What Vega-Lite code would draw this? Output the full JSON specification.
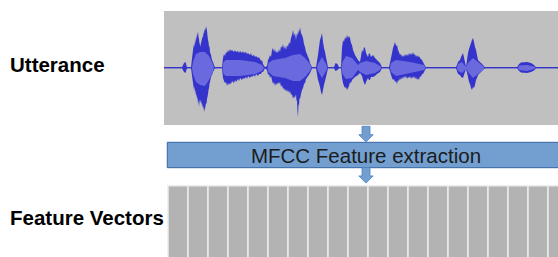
{
  "$schema": "https://vega.github.io/schema/vega-lite/v6.json",
  "width": 558,
  "height": 257,
  "padding": 0,
  "autosize": {"type": "none"},
  "background": "#ffffff",
  "config": {"view": {"stroke": null}},
  "datasets": {
    "outer": [
      {"x":164,"t":67.2,"b":68.3},{"x":182,"t":67.2,"b":68.3},{"x":184,"t":63,"b":72},{"x":185.5,"t":62,"b":73},{"x":187,"t":67.2,"b":68.3},{"x":191,"t":67.2,"b":68.3},
      {"x":193,"t":50,"b":83},{"x":194,"t":44,"b":90},{"x":194.5,"t":47,"b":86},{"x":195,"t":40,"b":93},{"x":195.5,"t":44,"b":90},{"x":196,"t":36,"b":96},{"x":196.5,"t":40,"b":94},{"x":197,"t":33,"b":99},{"x":197.5,"t":36,"b":97},{"x":198,"t":31,"b":104},{"x":198.5,"t":37,"b":100},{"x":199,"t":39,"b":107},{"x":199.5,"t":45,"b":102},{"x":200,"t":42,"b":99},{"x":200.5,"t":47,"b":103},{"x":201,"t":44,"b":100},{"x":201.5,"t":41,"b":105},{"x":202,"t":39,"b":102},{"x":202.5,"t":36,"b":108},{"x":203,"t":38,"b":105},{"x":203.5,"t":32,"b":110},{"x":204,"t":34,"b":107},{"x":204.5,"t":29,"b":112},{"x":205,"t":31,"b":109},{"x":205.5,"t":27,"b":106},{"x":206,"t":30,"b":103},{"x":206.5,"t":26,"b":104},{"x":207,"t":31,"b":99},{"x":207.5,"t":36,"b":97},{"x":208,"t":40,"b":94},{"x":208.5,"t":42,"b":90},{"x":209,"t":47,"b":88},{"x":209.5,"t":46,"b":84},{"x":210,"t":52,"b":82},{"x":211,"t":55,"b":77},{"x":212,"t":60,"b":75},{"x":213,"t":62,"b":72},{"x":214,"t":65,"b":70},{"x":215,"t":67.2,"b":68.3},
      {"x":222,"t":67.2,"b":68.3},{"x":223,"t":58,"b":78},{"x":224,"t":54,"b":81},{"x":225,"t":56,"b":83},{"x":226,"t":52,"b":82},{"x":227,"t":53,"b":86},{"x":228,"t":50,"b":83},{"x":229,"t":52,"b":85},{"x":230,"t":49,"b":83},{"x":231,"t":51,"b":84},{"x":232,"t":50,"b":81},{"x":234,"t":52,"b":83},{"x":235,"t":50,"b":80},{"x":236,"t":52,"b":82},{"x":238,"t":51,"b":79},{"x":239,"t":53,"b":81},{"x":240,"t":51,"b":78},{"x":242,"t":53,"b":80},{"x":243,"t":51,"b":78},{"x":244,"t":53,"b":79},{"x":246,"t":52,"b":77},{"x":247,"t":54,"b":79},{"x":248,"t":53,"b":76},{"x":250,"t":55,"b":78},{"x":251,"t":53,"b":76},{"x":252,"t":56,"b":77},{"x":254,"t":55,"b":75},{"x":255,"t":57,"b":77},{"x":256,"t":56,"b":74},{"x":258,"t":58,"b":76},{"x":259,"t":57,"b":74},{"x":261,"t":61,"b":74},{"x":262,"t":60,"b":72},{"x":263,"t":64,"b":72},{"x":265,"t":67.2,"b":68.3},
      {"x":267,"t":66,"b":70},{"x":268,"t":60,"b":75},{"x":269,"t":58,"b":74},{"x":270,"t":55,"b":78},{"x":271,"t":57,"b":76},{"x":272,"t":50,"b":80},{"x":273,"t":48,"b":84},{"x":274,"t":52,"b":82},{"x":275,"t":49,"b":86},{"x":276,"t":53,"b":83},{"x":277,"t":51,"b":85},{"x":278,"t":53,"b":82},{"x":279,"t":49,"b":84},{"x":280,"t":52,"b":82},{"x":281,"t":46,"b":87},{"x":282,"t":48,"b":85},{"x":283,"t":44,"b":89},{"x":284,"t":49,"b":88},{"x":285,"t":46,"b":91},{"x":286,"t":50,"b":89},{"x":287,"t":45,"b":92},{"x":288,"t":47,"b":90},{"x":289,"t":42,"b":93},{"x":290,"t":44,"b":91},{"x":291,"t":38,"b":95},{"x":292,"t":35,"b":94},{"x":293,"t":30,"b":99},{"x":294,"t":36,"b":96},{"x":295,"t":33,"b":98},{"x":296,"t":40,"b":94},{"x":296.5,"t":36,"b":101},{"x":297,"t":33,"b":100},{"x":297.5,"t":36,"b":112},{"x":298,"t":31,"b":117},{"x":298.5,"t":34,"b":104},{"x":299,"t":29,"b":106},{"x":299.5,"t":32,"b":98},{"x":300,"t":27,"b":99},{"x":301,"t":33,"b":94},{"x":302,"t":35,"b":90},{"x":303,"t":38,"b":88},{"x":304,"t":44,"b":84},{"x":305,"t":47,"b":83},{"x":306,"t":52,"b":79},{"x":307,"t":54,"b":78},{"x":308,"t":57,"b":76},{"x":309,"t":59,"b":75},{"x":310,"t":63,"b":73},{"x":311,"t":65,"b":71},{"x":312,"t":67.2,"b":68.3},
      {"x":316,"t":67.2,"b":68.3},{"x":318,"t":55,"b":80},{"x":319,"t":47,"b":83},{"x":320,"t":40,"b":87},{"x":321,"t":37,"b":92},{"x":322,"t":33,"b":95},{"x":323,"t":42,"b":90},{"x":324,"t":48,"b":85},{"x":325,"t":52,"b":81},{"x":326,"t":57,"b":77},{"x":328,"t":67.2,"b":68.3},
      {"x":334,"t":67.2,"b":68.3},{"x":335.5,"t":63,"b":71},{"x":337.5,"t":64,"b":70},{"x":339,"t":67.2,"b":68.3},
      {"x":341,"t":67.2,"b":68.3},{"x":342,"t":48,"b":78},{"x":343,"t":40,"b":83},{"x":344,"t":42,"b":86},{"x":345,"t":37,"b":88},{"x":346,"t":39,"b":87},{"x":347,"t":35,"b":90},{"x":348,"t":38,"b":88},{"x":349,"t":36,"b":86},{"x":350,"t":38,"b":82},{"x":351,"t":43,"b":83},{"x":352,"t":45,"b":80},{"x":353,"t":50,"b":79},{"x":355,"t":55,"b":77},{"x":358,"t":60,"b":75},{"x":360,"t":62,"b":73},
      {"x":362,"t":50,"b":76},{"x":363,"t":52,"b":80},{"x":364,"t":47,"b":83},{"x":365,"t":48,"b":85},{"x":366,"t":53,"b":82},{"x":368,"t":57,"b":78},{"x":369,"t":53,"b":80},{"x":370,"t":54,"b":80},{"x":371,"t":57,"b":77},{"x":373,"t":55,"b":77},{"x":375,"t":58,"b":76},{"x":377,"t":60,"b":74},{"x":380,"t":63,"b":72},{"x":382,"t":67.2,"b":68.3},
      {"x":389,"t":67.2,"b":68.3},{"x":391,"t":58,"b":75},{"x":392,"t":53,"b":78},{"x":393,"t":48,"b":80},{"x":394,"t":45,"b":79},{"x":395,"t":42,"b":82},{"x":396,"t":46,"b":81},{"x":397,"t":45,"b":84},{"x":398,"t":50,"b":80},{"x":399,"t":52,"b":81},{"x":400,"t":55,"b":78},{"x":401,"t":54,"b":80},{"x":402,"t":57,"b":77},{"x":403,"t":55,"b":79},{"x":404,"t":57,"b":76},{"x":405,"t":54,"b":78},{"x":406,"t":56,"b":76},{"x":407,"t":54,"b":79},{"x":408,"t":56,"b":77},{"x":409,"t":53,"b":78},{"x":410,"t":55,"b":76},{"x":411,"t":53,"b":79},{"x":412,"t":55,"b":77},{"x":413,"t":52,"b":78},{"x":414,"t":55,"b":76},{"x":415,"t":54,"b":79},{"x":416,"t":57,"b":77},{"x":417,"t":55,"b":80},{"x":418,"t":57,"b":78},{"x":419,"t":56,"b":80},{"x":420,"t":58,"b":76},{"x":421,"t":59,"b":77},{"x":422,"t":60,"b":74},{"x":423,"t":62,"b":74},{"x":424,"t":64,"b":72},{"x":426,"t":67.2,"b":68.3},
      {"x":456,"t":67.2,"b":68.3},{"x":458,"t":62,"b":74},{"x":460,"t":60,"b":75},{"x":461,"t":57,"b":77},{"x":463,"t":53,"b":78},{"x":465,"t":62,"b":72},{"x":466,"t":67,"b":69},{"x":468,"t":53,"b":77},{"x":469,"t":49,"b":82},{"x":470,"t":46,"b":84},{"x":471,"t":43,"b":88},{"x":472,"t":40,"b":90},{"x":473,"t":38,"b":87},{"x":474,"t":42,"b":88},{"x":475,"t":47,"b":85},{"x":476,"t":50,"b":80},{"x":477,"t":55,"b":78},{"x":478,"t":60,"b":75},{"x":481,"t":63,"b":72},{"x":483,"t":65,"b":70},{"x":485,"t":67.2,"b":68.3},
      {"x":517,"t":67.2,"b":68.3},{"x":519,"t":64,"b":71},{"x":521,"t":62.5,"b":72.5},{"x":527,"t":62,"b":73},{"x":531,"t":63,"b":72},{"x":534,"t":65,"b":70.5},{"x":536,"t":67.2,"b":68.3},{"x":558,"t":67.2,"b":68.3}
    ],
    "inner": [
      {"x":164,"t":67.7,"b":67.7},{"x":192,"t":67.7,"b":67.7},{"x":193,"t":62,"b":74},{"x":196,"t":54,"b":82},{"x":200,"t":52,"b":85},{"x":205,"t":52,"b":86},{"x":209,"t":56,"b":80},{"x":212,"t":62,"b":74},{"x":214,"t":67.7,"b":67.7},
      {"x":222.5,"t":67.7,"b":67.7},{"x":223.5,"t":62,"b":74},{"x":226,"t":60,"b":76},{"x":240,"t":60,"b":76},{"x":255,"t":62,"b":74},{"x":262,"t":65,"b":71},{"x":264,"t":67.7,"b":67.7},
      {"x":267.5,"t":67.7,"b":67.7},{"x":268.5,"t":63,"b":72},{"x":273,"t":60,"b":76},{"x":285,"t":58,"b":78},{"x":293,"t":55,"b":81},{"x":300,"t":54,"b":81},{"x":305,"t":58,"b":77},{"x":310,"t":64,"b":71},{"x":311.5,"t":67.7,"b":67.7},
      {"x":317,"t":67.7,"b":67.7},{"x":318,"t":64,"b":71},{"x":322,"t":57,"b":78},{"x":326,"t":64,"b":71},{"x":327.5,"t":67.7,"b":67.7},
      {"x":341.5,"t":67.7,"b":67.7},{"x":342.5,"t":62,"b":74},{"x":346,"t":56,"b":79},{"x":352,"t":58,"b":78},{"x":358,"t":65,"b":70},{"x":360,"t":63,"b":72},{"x":366,"t":61,"b":75},{"x":375,"t":63,"b":73},{"x":380,"t":66,"b":70},{"x":381.5,"t":67.7,"b":67.7},
      {"x":390,"t":67.7,"b":67.7},{"x":391,"t":63,"b":72},{"x":396,"t":60,"b":76},{"x":410,"t":62,"b":73},{"x":424,"t":65,"b":70},{"x":425.5,"t":67.7,"b":67.7},
      {"x":457,"t":67.7,"b":67.7},{"x":458,"t":64,"b":71},{"x":462,"t":62,"b":73},{"x":465,"t":66,"b":70},{"x":466.5,"t":67,"b":69},{"x":468,"t":63,"b":72},{"x":473,"t":58,"b":78},{"x":478,"t":62,"b":74},{"x":483,"t":66,"b":70},{"x":484.5,"t":67.7,"b":67.7},
      {"x":518,"t":67.7,"b":67.7},{"x":519,"t":65.5,"b":70},{"x":527,"t":65,"b":71},{"x":534,"t":66.5,"b":69},{"x":535.5,"t":67.7,"b":67.7},{"x":558,"t":67.7,"b":67.7}
    ],
    "cells": [
      {"x":168,"x2":188},{"x":188,"x2":208},{"x":208,"x2":228},{"x":228,"x2":248},{"x":248,"x2":268},
      {"x":268,"x2":288},{"x":288,"x2":308},{"x":308,"x2":328},{"x":328,"x2":348},{"x":348,"x2":368},
      {"x":368,"x2":388},{"x":388,"x2":408},{"x":408,"x2":428},{"x":428,"x2":448},{"x":448,"x2":468},
      {"x":468,"x2":488},{"x":488,"x2":508},{"x":508,"x2":528},{"x":528,"x2":548},{"x":548,"x2":568}
    ]
  },
  "layer": [
    {
      "data": {"values": [{"x":164,"x2":560,"y":11,"y2":125}]},
      "mark": {"type": "rect", "fill": "#c0c0c0"},
      "encoding": {
        "x": {"field": "x", "type": "quantitative", "scale": {"domain": [0,558], "nice": false, "zero": false}, "axis": null},
        "x2": {"field": "x2"},
        "y": {"field": "y", "type": "quantitative", "scale": {"domain": [0,257], "reverse": true, "nice": false, "zero": false}, "axis": null},
        "y2": {"field": "y2"}
      }
    },
    {
      "data": {"values": [{"x":164,"x2":558,"y":67.7}]},
      "mark": {"type": "rule", "stroke": "#3a3ac8", "strokeWidth": 1.2},
      "encoding": {
        "x": {"field": "x", "type": "quantitative", "axis": null},
        "x2": {"field": "x2"},
        "y": {"field": "y", "type": "quantitative", "axis": null}
      }
    },
    {
      "data": {"name": "outer"},
      "mark": {"type": "area", "fill": "#3434cc", "interpolate": "linear"},
      "encoding": {
        "x": {"field": "x", "type": "quantitative", "axis": null},
        "y": {"field": "t", "type": "quantitative", "axis": null},
        "y2": {"field": "b"}
      }
    },
    {
      "data": {"name": "inner"},
      "mark": {"type": "area", "fill": "#6a6ade", "interpolate": "linear"},
      "encoding": {
        "x": {"field": "x", "type": "quantitative", "axis": null},
        "y": {"field": "t", "type": "quantitative", "axis": null},
        "y2": {"field": "b"}
      }
    },
    {
      "data": {"values": [{"x":167.3,"x2":562,"y":142.3,"y2":167.7}]},
      "mark": {"type": "rect", "fill": "#729fcf", "stroke": "#3465a4", "strokeWidth": 1},
      "encoding": {
        "x": {"field": "x", "type": "quantitative", "axis": null},
        "x2": {"field": "x2"},
        "y": {"field": "y", "type": "quantitative", "axis": null},
        "y2": {"field": "y2"}
      }
    },
    {
      "data": {"values": [{"x":366,"y":134.3},{"x":366,"y":175.5}]},
      "mark": {"type": "point", "filled": true, "fill": "#729fcf", "stroke": "#4f7fbf", "strokeWidth": 0.8, "opacity": 1, "size": 256,
        "shape": "M-0.5,-1 L0.5,-1 L0.5,0.05 L0.9,0.05 L0,0.95 L-0.9,0.05 L-0.5,0.05 Z"},
      "encoding": {
        "x": {"field": "x", "type": "quantitative", "axis": null},
        "y": {"field": "y", "type": "quantitative", "axis": null}
      }
    },
    {
      "data": {"name": "cells"},
      "mark": {"type": "rect", "fill": "#b3b3b3", "stroke": "#ececec", "strokeWidth": 1.5},
      "encoding": {
        "x": {"field": "x", "type": "quantitative", "axis": null},
        "x2": {"field": "x2"},
        "y": {"datum": 185.7, "type": "quantitative", "axis": null},
        "y2": {"datum": 262}
      }
    },
    {
      "data": {"values": [{"x":10,"y":71.7,"label":"Utterance"},{"x":10,"y":225,"label":"Feature Vectors"}]},
      "mark": {"type": "text", "align": "left", "baseline": "alphabetic", "font": "Liberation Sans", "fontSize": 20.5, "fontWeight": "bold", "fill": "#000000"},
      "encoding": {
        "x": {"field": "x", "type": "quantitative", "axis": null},
        "y": {"field": "y", "type": "quantitative", "axis": null},
        "text": {"field": "label"}
      }
    },
    {
      "data": {"values": [{"x":366,"y":162.7,"label":"MFCC Feature extraction"}]},
      "mark": {"type": "text", "align": "center", "baseline": "alphabetic", "font": "Liberation Sans", "fontSize": 20.5, "fill": "#1c1c1c"},
      "encoding": {
        "x": {"field": "x", "type": "quantitative", "axis": null},
        "y": {"field": "y", "type": "quantitative", "axis": null},
        "text": {"field": "label"}
      }
    }
  ]
}
